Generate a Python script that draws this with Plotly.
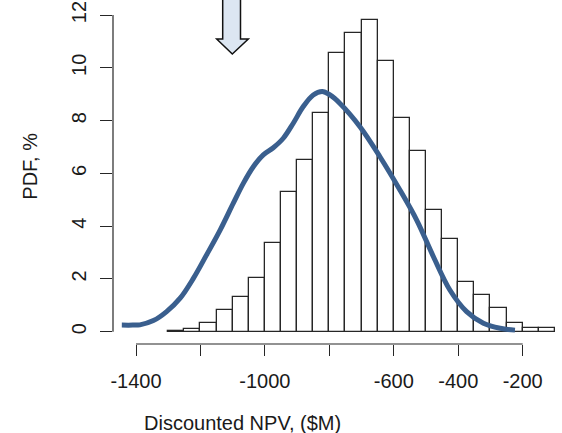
import plotly.graph_objects as go

# ---- data ----
bin_left = [-1300, -1250, -1200, -1150, -1100, -1050, -1000, -950, -900, -850,
            -800, -750, -700, -650, -600, -550, -500, -450, -400, -350,
            -300, -250, -200, -150]
bin_width = 50
pdf_pct = [0.04, 0.11, 0.33, 0.83, 1.33, 2.03, 3.36, 5.29, 6.49, 8.29,
           10.57, 11.33, 11.80, 10.27, 8.11, 6.85, 4.61, 3.50, 1.87, 1.39,
           0.89, 0.33, 0.15, 0.15]

curve_x = [-1444, -1410, -1388, -1346, -1305, -1263, -1222, -1181, -1139, -1098,
           -1067, -1036, -1005, -974, -943, -912, -881, -850, -822, -798,
           -767, -705, -643, -581, -529, -477, -426, -374, -322, -270, -224]
curve_y = [0.25, 0.25, 0.26, 0.42, 0.76, 1.27, 2.02, 2.91, 3.85, 4.87,
           5.62, 6.25, 6.70, 6.97, 7.33, 7.90, 8.53, 8.97, 9.10, 8.97,
           8.65, 7.77, 6.63, 5.37, 4.23, 2.84, 1.58, 0.76, 0.32, 0.13, 0.06]

x_tickvals = [-1400, -1200, -1000, -800, -600, -400, -200]
x_ticktext = ["-1400", "", "-1000", "", "-600", "-400", "-200"]
y_tickvals = [0, 2, 4, 6, 8, 10, 12]
y_ticktext = ["0", "2", "4", "6", "8", "10", "12"]

x_title = "Discounted NPV, ($M)"
y_title = "PDF, %"

# ---- layout geometry (pixels) ----
W, H = 562, 433
L, B, T, R = 113, 89, 0, 0
PW, PH = W - L - R, H - T - B
FONT = "Liberation Sans, Arial, Helvetica, sans-serif"
TXT = "#1a1a1a"

def px_to_paper(px, py):
    return (px - L) / PW, (H - B - py) / PH

bin_centers = [b + bin_width / 2 for b in bin_left]

fig = go.Figure()
fig.add_trace(go.Bar(
    x=bin_centers, y=pdf_pct, width=[bin_width] * len(bin_left),
    marker=dict(color="white", line=dict(color="#262626", width=1.3)),
    hoverinfo="x+y", showlegend=False,
))
fig.add_trace(go.Scatter(
    x=curve_x, y=curve_y, mode="lines",
    line=dict(color="#3a5f8e", width=5, shape="spline", smoothing=1.0),
    showlegend=False,
))

# axis lines drawn like R's base axes (spanning only the tick range)
fig.add_shape(type="line", xref="x", yref="paper",
              x0=x_tickvals[0], x1=x_tickvals[-1], y0=0, y1=0,
              line=dict(color="#262626", width=1.2))
fig.add_shape(type="line", xref="paper", yref="y",
              x0=0, x1=0, y0=y_tickvals[0], y1=y_tickvals[-1],
              line=dict(color="#262626", width=1.2))

# decorative down arrow at top
pts = [(222.7, -5), (240.5, -5), (240.5, 39), (248.3, 39), (232.3, 54),
       (216.7, 39), (222.7, 39)]
path = ""
for i, (px, py) in enumerate(pts):
    fx, fy = px_to_paper(px, py)
    path += ("M" if i == 0 else "L") + f"{fx:.5f},{fy:.5f} "
path += "Z"
fig.add_shape(type="path", xref="paper", yref="paper", path=path,
              fillcolor="#dce6f2", line=dict(color="#111111", width=1.5))

# axis titles
tx, ty = px_to_paper(242.5, 423)
fig.add_annotation(text=x_title, xref="paper", yref="paper", x=tx, y=ty,
                   xanchor="center", yanchor="middle", showarrow=False,
                   font=dict(family=FONT, size=20, color=TXT))
tx, ty = px_to_paper(30, 166.7)
fig.add_annotation(text=y_title, xref="paper", yref="paper", x=tx, y=ty,
                   xanchor="center", yanchor="middle", showarrow=False,
                   textangle=-90, font=dict(family=FONT, size=20, color=TXT))

scale_x = (522.7 - 136.0) / 1200.0
scale_y = (331.7 - 15.0) / 12.0
x0 = -1400 - (136.0 - L) / scale_x
x1 = -1400 + (W - R - 136.0) / scale_x
y0 = -((H - B) - 331.7) / scale_y
y1 = (331.7 - T) / scale_y

fig.update_layout(
    width=W, height=H,
    margin=dict(l=L, r=R, t=T, b=B, pad=0, autoexpand=False),
    paper_bgcolor="white", plot_bgcolor="white",
    bargap=0,
    font=dict(family=FONT, size=20, color=TXT),
    xaxis=dict(range=[x0, x1], showgrid=False, zeroline=False, showline=False,
               automargin=False,
               tickmode="array", tickvals=x_tickvals, ticktext=x_ticktext,
               ticks="outside", ticklen=11, tickwidth=1.2, tickcolor="#262626",
               ticklabelstandoff=8,
               tickfont=dict(family=FONT, size=20, color=TXT)),
    yaxis=dict(range=[y0, y1], showgrid=False, zeroline=False, showline=False,
               automargin=False,
               tickmode="array", tickvals=y_tickvals, ticktext=y_ticktext,
               ticks="outside", ticklen=12, tickwidth=1.2, tickcolor="#262626",
               tickangle=-90, ticklabelstandoff=6,
               tickfont=dict(family=FONT, size=20, color=TXT)),
)

fig.write_html("out.html",
               config={"displayModeBar": False},
               post_script="document.body.style.margin='0';"
                           "document.body.style.overflow='hidden';")
